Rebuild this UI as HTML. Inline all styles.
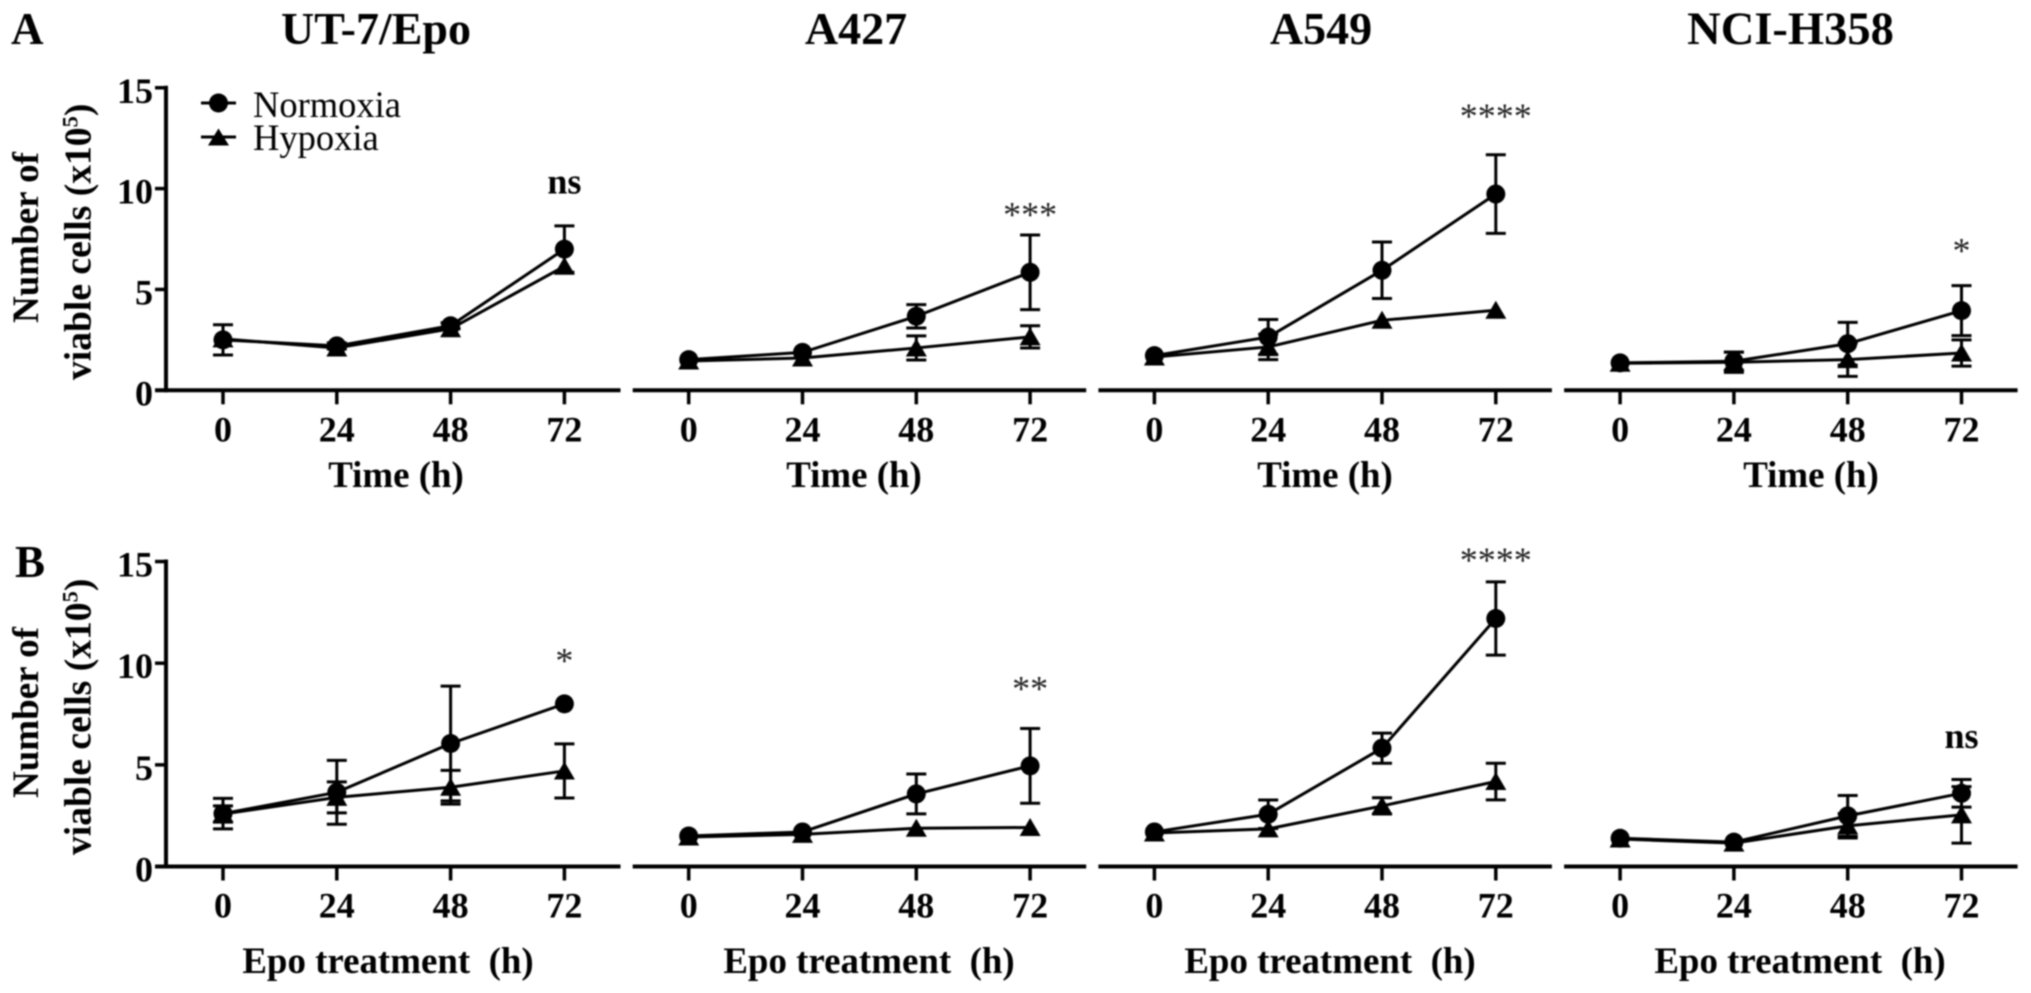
<!DOCTYPE html>
<html lang="en">
<head>
<meta charset="utf-8">
<title>Viable cell counts under normoxia and hypoxia</title>
<style>
html,body{margin:0;padding:0;background:#fff;width:2031px;height:993px;overflow:hidden}
svg{display:block;filter:blur(0.7px)}
text{font-family:"Liberation Serif",serif;fill:#000;white-space:pre}
.b{font-weight:bold}
</style>
</head>
<body>
<svg id="figure" xmlns="http://www.w3.org/2000/svg" width="2031" height="993" viewBox="0 0 2031 993">
  <rect x="0" y="0" width="2031" height="993" fill="#fff"/>
  <text class="b" x="11" y="44" font-size="45">A</text>
  <text class="b" x="15" y="577" font-size="45">B</text>
  <text class="b" x="376" y="44" font-size="46" text-anchor="middle">UT-7/Epo</text>
  <text class="b" x="856" y="44" font-size="46" text-anchor="middle">A427</text>
  <text class="b" x="1321" y="44" font-size="46" text-anchor="middle">A549</text>
  <text class="b" x="1790.5" y="44" font-size="46.5" text-anchor="middle">NCI-H358</text>

  <g>
    <text class="b" font-size="37" transform="translate(38 323) rotate(-90)">Number of</text>
    <text class="b" font-size="37.6" transform="translate(90.5 380) rotate(-90)">viable cells (x10<tspan font-size="22.5" dy="-13">5</tspan><tspan dy="13">)</tspan></text>
  </g>
  <g>
    <text class="b" font-size="37" transform="translate(38 798) rotate(-90)">Number of</text>
    <text class="b" font-size="37.6" transform="translate(90.5 855) rotate(-90)">viable cells (x10<tspan font-size="22.5" dy="-13">5</tspan><tspan dy="13">)</tspan></text>
  </g>

  <g>
    <g>
      <line x1="201" y1="103" x2="236" y2="103" stroke="#000" stroke-width="3"/>
      <circle cx="218.5" cy="103" r="9.5" fill="#000"/>
      <text x="253" y="117" font-size="36.5">Normoxia</text>
    </g>
    <g>
      <line x1="201" y1="137" x2="236" y2="137" stroke="#000" stroke-width="3"/>
      <polygon points="218.5,128.5 229,145.5 208,145.5" fill="#000"/>
      <text x="253" y="150" font-size="36.5">Hypoxia</text>
    </g>
  </g>
  <g id="plots"></g>
</svg>

<script>
// ---- shared categories and tick labels ----
const hours = [0, 24, 48, 72];
const yTickValues = [0, 5, 10, 15];

// ---- Row A: proliferation over time ----
const aUt7Normoxia = [2.5, 2.2, 3.2, 7.0];
const aUt7NormoxiaErr = [0.75, 0.15, 0.15, 1.15];
const aUt7Hypoxia = [2.55, 2.1, 3.05, 6.15];
const aUt7HypoxiaErr = [0, 0, 0, 0];

const aA427Normoxia = [1.52, 1.88, 3.67, 5.85];
const aA427NormoxiaErr = [0, 0, 0.58, 1.85];
const aA427Hypoxia = [1.45, 1.6, 2.1, 2.65];
const aA427HypoxiaErr = [0, 0, 0.6, 0.55];

const aA549Normoxia = [1.72, 2.64, 5.95, 9.73];
const aA549NormoxiaErr = [0, 0.87, 1.4, 1.95];
const aA549Hypoxia = [1.65, 2.15, 3.47, 3.97];
const aA549HypoxiaErr = [0, 0.63, 0, 0];

const aH358Normoxia = [1.36, 1.44, 2.31, 3.95];
const aH358NormoxiaErr = [0, 0.45, 1.06, 1.24];
const aH358Hypoxia = [1.34, 1.39, 1.52, 1.85];
const aH358HypoxiaErr = [0, 0.5, 0.83, 0.65];

// ---- Row B: Epo treatment ----
const bUt7Normoxia = [2.6, 3.65, 6.05, 8.0];
const bUt7NormoxiaErr = [0.75, 1.57, 2.82, 0];
const bUt7Hypoxia = [2.58, 3.4, 3.9, 4.7];
const bUt7HypoxiaErr = [0.4, 0.76, 0.83, 1.33];

const bA427Normoxia = [1.5, 1.7, 3.57, 4.95];
const bA427NormoxiaErr = [0, 0, 0.98, 1.84];
const bA427Hypoxia = [1.45, 1.58, 1.88, 1.92];
const bA427HypoxiaErr = [0, 0, 0, 0];

const bA549Normoxia = [1.7, 2.57, 5.82, 12.2];
const bA549NormoxiaErr = [0, 0.7, 0.74, 1.8];
const bA549Hypoxia = [1.65, 1.85, 2.98, 4.18];
const bA549HypoxiaErr = [0, 0, 0.4, 0.9];

const bH358Normoxia = [1.39, 1.2, 2.49, 3.6];
const bH358NormoxiaErr = [0, 0, 1.0, 0.68];
const bH358Hypoxia = [1.35, 1.15, 2.0, 2.54];
const bH358HypoxiaErr = [0, 0, 0.6, 1.39];

// ---- significance labels, and the level each is printed at (data units) ----
const sigLabelsA = ['ns', '***', '****', '*'];
const sigLevelsA = [10.16, 8.84, 13.73, 7.05];
const sigLabelsB = ['*', '**', '****', 'ns'];
const sigLevelsB = [10.25, 8.88, 15.19, 6.22];

const cellLines = ['ut-7-epo', 'a427', 'a549', 'nci-h358'];
const seriesA = [
  [aUt7Normoxia, aUt7NormoxiaErr, aUt7Hypoxia, aUt7HypoxiaErr],
  [aA427Normoxia, aA427NormoxiaErr, aA427Hypoxia, aA427HypoxiaErr],
  [aA549Normoxia, aA549NormoxiaErr, aA549Hypoxia, aA549HypoxiaErr],
  [aH358Normoxia, aH358NormoxiaErr, aH358Hypoxia, aH358HypoxiaErr]
];
const seriesB = [
  [bUt7Normoxia, bUt7NormoxiaErr, bUt7Hypoxia, bUt7HypoxiaErr],
  [bA427Normoxia, bA427NormoxiaErr, bA427Hypoxia, bA427HypoxiaErr],
  [bA549Normoxia, bA549NormoxiaErr, bA549Hypoxia, bA549HypoxiaErr],
  [bH358Normoxia, bH358NormoxiaErr, bH358Hypoxia, bH358HypoxiaErr]
];

// ---- axis functions ----
function xScale(col, h) { return 223 + col * 465.7 + h * (113.8 / 24); }
function yScaleA(v) { return 390.3 - v * 20.17; }
function yScaleB(v) { return 866.5 - v * 20.33; }

const NS = 'http://www.w3.org/2000/svg';
const INK = '#000';
const root = document.getElementById('plots');

function make(tag, attrs, parent) {
  const el = document.createElementNS(NS, tag);
  for (const k in attrs) el.setAttribute(k, attrs[k]);
  parent.appendChild(el);
  return el;
}

function drawSeries(group, col, y, values, errs, kind) {
  const series = make('g', {}, group);
  
  
  errs.forEach(function (e, i) {
    if (e <= 0) return;
    const x = xScale(col, hours[i]);
    const hi = y(values[i] + e), lo = y(values[i] - e);
    const bar = make('path', {
      d: 'M' + (x - 10) + ' ' + hi + 'H' + (x + 10) + 'M' + (x - 10) + ' ' + lo + 'H' + (x + 10) + 'M' + x + ' ' + hi + 'V' + lo,
      stroke: INK, 'stroke-width': 3, fill: 'none'
    }, series);
    
    
  });
  const pts = values.map(function (v, i) { return xScale(col, hours[i]) + ',' + y(v); }).join(' ');
  const line = make('polyline', { points: pts, fill: 'none', stroke: INK, 'stroke-width': 3, 'stroke-linejoin': 'round' }, series);
  
  
  values.forEach(function (v, i) {
    const x = xScale(col, hours[i]), py = y(v);
    let mark;
    if (kind === 'normoxia') {
      mark = make('circle', { cx: x, cy: py, r: 9.5, fill: INK }, series);
    } else {
      mark = make('polygon', {
        points: x + ',' + (py - 9.5) + ' ' + (x + 10.5) + ',' + (py + 8.5) + ' ' + (x - 10.5) + ',' + (py + 8.5),
        fill: INK
      }, series);
    }
    
    
  });
}

function drawPanel(rowName, col, y, data, sigLabel, sigLevel, xTitle, xTitleCenter, xTitleBase) {
  const g = make('g', {}, root);
  
  
  const y0 = y(0);
  const x0 = xScale(col, 0);
  const left = col === 0 ? x0 - 68 : x0 - 56;

  const xAxis = make('line', { x1: left, y1: y0, x2: x0 + 397.5, y2: y0, stroke: INK, 'stroke-width': 4 }, g);
  
  

  hours.forEach(function (h) {
    const x = xScale(col, h);
    const t = make('line', { x1: x, y1: y0, x2: x, y2: y0 + 14, stroke: INK, 'stroke-width': 3.5 }, g);
    
    
    const lab = make('text', { x: x, y: y0 + 51, 'font-size': 36, 'text-anchor': 'middle', class: 'b' }, g);
    lab.textContent = String(h);
    
    
  });

  if (col === 0) {
    const yAxis = make('line', { x1: 166, y1: y(15) - 2, x2: 166, y2: y0 + 2, stroke: INK, 'stroke-width': 4 }, g);
    
    
    yTickValues.forEach(function (v) {
      const t = make('line', { x1: 155, y1: y(v), x2: 166, y2: y(v), stroke: INK, 'stroke-width': 3.5 }, g);
      
      
      const lab = make('text', { x: 153, y: y(v) + 15, 'font-size': 36, 'text-anchor': 'end', class: 'b' }, g);
      lab.textContent = String(v);
      
      
    });
  }

  const xt = make('text', { x: xTitleCenter, y: xTitleBase, 'font-size': 36.9, 'text-anchor': 'middle', class: 'b' }, g);
  xt.textContent = xTitle;
  
  

  drawSeries(g, col, y, data[2], data[3], 'hypoxia');
  drawSeries(g, col, y, data[0], data[1], 'normoxia');

  const isNs = sigLabel === 'ns';
  const sig = make('text', {
    x: xScale(col, 72), y: y(sigLevel) + (isNs ? 8 : 14.5),
    'font-size': 36, 'text-anchor': 'middle', class: isNs ? 'b' : '',
    style: isNs ? '' : 'fill:#222'
  }, g);
  sig.textContent = sigLabel;
  
  
}

function timeTitleCenter(col) {
  return col === 0 ? 396 : col === 1 ? 854 : col === 2 ? 1325 : 1811;
}
function epoTitleCenter(col) {
  return col === 0 ? 388 : col === 1 ? 869 : col === 2 ? 1330 : 1800;
}

seriesA.forEach(function (data, col) {
  drawPanel('row-a', col, yScaleA, data, sigLabelsA[col], sigLevelsA[col], 'Time (h)', timeTitleCenter(col), 487);
});
seriesB.forEach(function (data, col) {
  drawPanel('row-b', col, yScaleB, data, sigLabelsB[col], sigLevelsB[col], 'Epo treatment  (h)', epoTitleCenter(col), 973);
});
</script>
</body>
</html>
